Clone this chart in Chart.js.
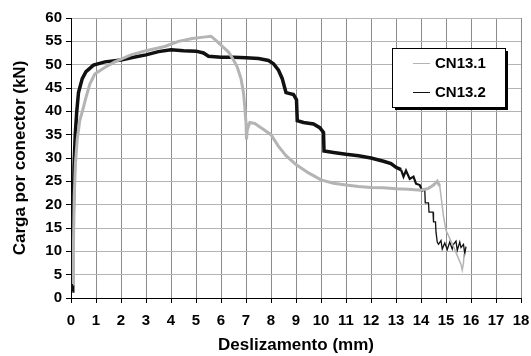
<!DOCTYPE html>
<html>
<head>
<meta charset="utf-8">
<script src="https://cdn.jsdelivr.net/npm/chart.js@4/dist/chart.umd.min.js"></script>
<style>
  html, body { margin: 0; padding: 0; background: #fff; }
  #wrap { width: 531px; height: 356px; }
</style>
</head>
<body>
<div id="wrap"><canvas id="chart" width="531" height="356"></canvas></div>
<script>
// series labels
const seriesNames = ["CN13.1", "CN13.2"];

// CN13.1 (gray) : [slip mm, load kN]
const cn131 = [
  [0.08, 3], [0.1, 12], [0.13, 22], [0.18, 29], [0.25, 34], [0.35, 38],
  [0.48, 40.5], [0.6, 43], [0.75, 45.8], [0.95, 48], [1.35, 49.4], [1.75, 50.6],
  [2.4, 52.1], [3.0, 53], [3.75, 53.9], [4.3, 55], [4.85, 55.6], [5.3, 55.9],
  [5.6, 56.1], [5.75, 55.4], [6.0, 54.2], [6.3, 52.7], [6.5, 51.0], [6.65, 49.5],
  [6.8, 47], [6.9, 44], [6.95, 41], [7.0, 37.5], [7.02, 34], [7.05, 36],
  [7.15, 37.6], [7.35, 37.4], [7.6, 36.5], [8.0, 35], [8.3, 32.5], [8.6, 30.5],
  [9.0, 28.6], [9.5, 26.8], [10.0, 25.3], [10.5, 24.6], [11.0, 24.2], [11.5, 23.9],
  [12.0, 23.7], [12.5, 23.6], [13.0, 23.4], [13.5, 23.3], [14.0, 23.1], [14.3, 23.5],
  [14.5, 24.2], [14.65, 25], [14.75, 24.0], [14.82, 21], [14.9, 17.5], [15.0, 14.5],
  [15.3, 11], [15.6, 7.2], [15.65, 6], [15.7, 7.5], [15.72, 9.5]
];

// CN13.2 (black)
const cn132 = [
  [0.05, 1.5], [0.07, 8], [0.09, 18], [0.12, 28], [0.17, 35], [0.23, 40],
  [0.3, 44], [0.45, 47], [0.6, 48.5], [0.9, 49.9], [1.36, 50.6], [2.0, 51.0],
  [2.5, 51.6], [3.0, 52.1], [3.5, 52.8], [4.0, 53.2], [4.5, 53.0], [5.0, 52.9],
  [5.3, 52.5], [5.5, 51.8], [6.0, 51.6], [6.5, 51.6], [7.0, 51.5], [7.5, 51.3],
  [7.9, 50.9], [8.1, 50.2], [8.3, 48.8], [8.45, 47], [8.55, 45], [8.6, 44],
  [8.9, 43.6], [9.02, 42.5], [9.05, 38], [9.3, 37.6], [9.7, 37.3], [9.95, 36.5],
  [10.1, 35.5], [10.12, 31.5], [10.5, 31.2], [11.0, 30.8], [11.5, 30.5], [12.0, 30.0],
  [12.5, 29.3], [12.8, 28.8], [13.0, 28.0], [13.2, 27.5], [13.3, 26], [13.4, 27.3],
  [13.55, 25.5], [13.7, 26], [13.8, 24.5], [13.95, 24.2], [14.05, 23], [14.15, 23.3],
  [14.17, 20.4], [14.3, 20.4], [14.32, 18.4], [14.48, 18.4], [14.5, 16.3], [14.58, 16.3],
  [14.6, 14.1], [14.63, 14.1], [14.65, 12], [14.7, 11.5], [14.8, 12.3], [14.85, 10.5],
  [14.95, 11.8], [15.05, 10.4], [15.15, 12], [15.25, 10.5], [15.3, 11.5], [15.4, 12.2],
  [15.45, 10.2], [15.55, 12], [15.6, 10.8], [15.7, 11.5], [15.75, 9.5], [15.8, 11]
];

const xTicks = [0, 1, 2, 3, 4, 5, 6, 7, 8, 9, 10, 11, 12, 13, 14, 15, 16, 17, 18];
const yTicks = [0, 5, 10, 15, 20, 25, 30, 35, 40, 45, 50, 55, 60];

const FONT = "'Liberation Sans', Arial, sans-serif";
const toPts = arr => arr.map(p => ({ x: p[0], y: p[1] }));

// legend box drawn inside the plot
const boxLegend = {
  id: 'boxLegend',
  afterDraw(chart) {
    const ctx = chart.ctx;
    const x = 392, y = 48, w = 113, h = 59;
    ctx.save();
    ctx.fillStyle = '#000';
    ctx.fillRect(x + 3, y + 3, w, h);
    ctx.fillStyle = '#fff';
    ctx.fillRect(x, y, w, h);
    ctx.strokeStyle = '#000';
    ctx.lineWidth = 1;
    ctx.strokeRect(x + 0.5, y + 0.5, w, h);
    chart.data.datasets.forEach((ds, i) => {
      const ly = y + 15 + i * 29;
      ctx.strokeStyle = ds.borderColor;
      ctx.lineWidth = 1;
      ctx.beginPath();
      ctx.moveTo(413, ly + 0.5);
      ctx.lineTo(430, ly + 0.5);
      ctx.stroke();
      ctx.fillStyle = '#000';
      ctx.font = 'bold 15px ' + FONT;
      ctx.textBaseline = 'middle';
      ctx.fillText(ds.label, 435, ly + 1);
    });
    ctx.restore();
  }
};

new Chart(document.getElementById('chart'), {
  type: 'line',
  data: {
    datasets: [{
      label: seriesNames[0],
      data: toPts(cn131),
      borderColor: '#b4b4b4',
      borderWidth: 3,
      pointRadius: 0,
      fill: false,
      tension: 0,
      segment: { borderWidth: c => c.p0.parsed.x > 14.7 ? 1.5 : 3 }
    }, {
      label: seriesNames[1],
      data: toPts(cn132),
      borderColor: '#111111',
      borderWidth: 3.5,
      pointRadius: 0,
      fill: false,
      tension: 0,
      segment: { borderWidth: c => c.p0.parsed.x > 14.1 ? 1.3 : (c.p0.parsed.x > 13.1 ? 2.2 : 3.5) }
    }]
  },
  options: {
    responsive: false,
    animation: false,
    layout: { padding: { top: 18, right: 10, left: 0, bottom: 0 } },
    plugins: { legend: { display: false }, tooltip: { enabled: false } },
    scales: {
      x: {
        type: 'linear',
        min: 0, max: 18,
        afterBuildTicks: s => { s.ticks = xTicks.map(v => ({ value: v })); },
        afterFit: s => { s.height = 58; s.paddingLeft = 0; s.paddingRight = 0; },
        grid: { color: '#8c8c8c', tickColor: '#000', tickLength: 5, lineWidth: 1 },
        border: { color: '#000', width: 1 },
        ticks: { color: '#000', font: { family: FONT, size: 15, weight: 'bold' }, padding: 9, maxRotation: 0 },
        title: { display: true, text: 'Deslizamento (mm)', color: '#000',
                 font: { family: FONT, size: 17, weight: 'bold' }, padding: { top: 4, bottom: 0 } }
      },
      y: {
        type: 'linear',
        min: 0, max: 60,
        afterBuildTicks: s => { s.ticks = yTicks.map(v => ({ value: v })); },
        afterFit: s => { s.width = 71; s.paddingTop = 0; s.paddingBottom = 0; },
        grid: { color: '#b4b4b4', tickColor: '#000', tickLength: 5, lineWidth: 1 },
        border: { color: '#000', width: 1 },
        ticks: { color: '#000', font: { family: FONT, size: 15, weight: 'bold' }, padding: 4 },
        title: { display: true, text: 'Carga por conector (kN)', color: '#000',
                 font: { family: FONT, size: 17, weight: 'bold' }, padding: { top: 10, bottom: 4 } }
      }
    }
  },
  plugins: [boxLegend]
});
</script>
</body>
</html>
